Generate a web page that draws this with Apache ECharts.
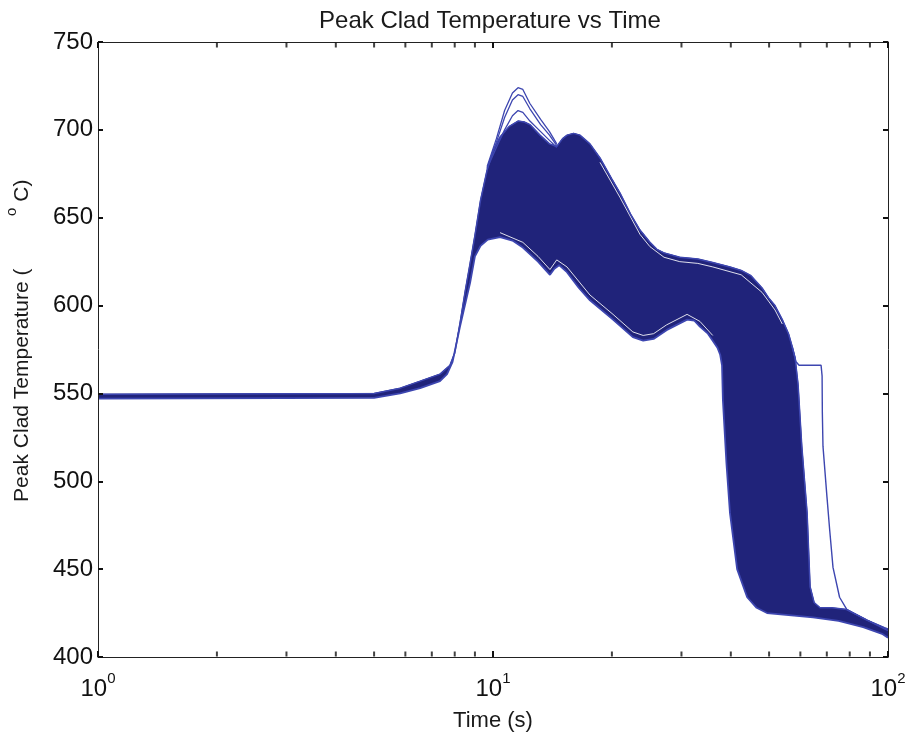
<!DOCTYPE html>
<html>
<head>
<meta charset="utf-8">
<script src="https://cdn.jsdelivr.net/npm/echarts@6/dist/echarts.min.js"></script>
<style>html,body{margin:0;padding:0;background:#fff}#c{width:908px;height:733px}</style>
</head>
<body>
<div id="c"></div>
<script>
// ---- data (time in s, temperature in °C) ----
// upper envelope of the bundle of runs
const upperX = [1, 5.0, 5.82, 6.54, 7.34, 7.78, 8.0, 8.25, 8.5, 8.75, 9.0, 9.3, 9.66, 10.0, 10.42, 11.0, 11.57, 12.0, 12.4, 13.15, 13.9, 14.5, 15.0, 15.4, 16.0, 16.6, 17.6, 18.66, 20.0, 20.97, 22.3, 23.56, 24.97, 26.0, 27.1, 29.7, 33.0, 36.0, 39.8, 42.5, 45.0, 48.0, 50.0, 51.75, 54.0, 56.0, 57.15, 58.2, 59.2, 60.5, 62.4, 63.5, 65.0, 67.3, 72.0, 78.7, 88.5, 98.3, 100];
const upperY = [549.5, 550, 553, 557, 561, 566, 573, 590, 608, 624, 640, 660, 677, 688, 696, 702, 705, 704.5, 703, 697, 692, 690.5, 695, 697, 698, 697, 692, 684, 672, 664, 652, 643, 636, 632, 630, 627.5, 626.5, 624.5, 622, 620, 617, 610, 604, 600, 592, 584, 577, 570, 555, 520, 482, 440, 431, 428, 428, 427, 421, 416.5, 416];

// lower envelope of the bundle
const lowerX = [1, 5.0, 5.82, 6.54, 7.34, 7.65, 7.9, 8.25, 8.75, 9.0, 9.3, 9.7, 10.42, 11.2, 11.9, 13.0, 13.94, 14.3, 14.7, 15.39, 16.5, 17.6, 20.13, 22.6, 24.0, 25.5, 27.5, 31.0, 32.3, 33.4, 35.0, 36.0, 37.0, 37.6, 38.0, 38.2, 39.0, 39.8, 41.5, 44.0, 46.5, 49.4, 64.6, 75.0, 86.5, 97.0, 100];
const lowerY = [547, 547.5, 550, 553, 557, 561, 568, 588, 613, 628, 634, 637.5, 639, 637, 633, 625, 617.5, 621, 623, 619, 610, 603, 592, 582, 580, 581, 586, 592, 591.5, 588, 584, 580, 576, 572, 566, 546, 510, 482, 450, 434, 428, 425, 422.5, 420.5, 417, 413, 411];

// visible white gaps between the outermost runs and the dense bundle
const gapLowX = [10.42, 11.9, 13.0, 13.94, 14.5, 15.39, 17.6, 20.13, 22.6, 24.0, 25.5, 27.5, 31.0, 33.4, 36.0];
const gapLowY = [641.5, 636, 628, 620.5, 626, 622, 606, 595, 585, 583, 584, 589, 595, 591, 583];
const gapUpX = [18.66, 20.97, 23.56, 24.97, 27.1, 29.7, 33.0, 36.0, 42.5, 48.0, 51.75, 54.0];
const gapUpY = [681.5, 661.5, 640.5, 633.5, 627.5, 625, 624, 622, 617.5, 607.5, 597.5, 589.5];

// runs that peak above the bundle around 11-12 s
const peakX  = [9.66, 10.2, 10.7, 11.2, 11.57, 11.9, 12.4, 13.2, 13.9, 14.5];
const peakAY = [679, 695, 711, 721, 724, 723, 715, 706, 699, 692];
const peakBY = [678, 693, 707, 717, 720, 719, 712, 703, 697, 691];
const peakCY = [678, 690, 700, 708, 711, 710, 705, 699, 694, 690];

// the single late-quenching run
const lateX = [57.15, 58.5, 59.54, 67.7, 68.1, 68.2, 68.45, 70.07, 71.2, 72.57, 75.4, 78.7, 88.5, 100];
const lateY = [577, 568, 566, 566, 560, 539, 520, 491, 472, 451, 434, 427, 421, 415];

const minorTicks = [2, 3, 4, 5, 6, 7, 8, 9, 20, 30, 40, 50, 60, 70, 80, 90];

const titleText = 'Peak Clad Temperature vs Time';
const xName = 'Time (s)';
// ---------------------------------------------------------------

const zip = (xs, ys) => xs.map((x, i) => [x, ys[i]]);
const BAND = '#20237a';
const EDGE = '#3d46b0';
const FONT = 'Liberation Sans, Arial, sans-serif';
const nb = n => '\u00a0'.repeat(n);

const chart = echarts.init(document.getElementById('c'));
const lineSeries = (xs, ys, color, width, z) => ({type: 'line', data: zip(xs, ys), showSymbol: false, z: z,
  silent: true, lineStyle: {color: color, width: width}});
chart.setOption({
  animation: false,
  backgroundColor: '#fff',
  title: {text: titleText, left: 485, textAlign: 'center', top: 4,
    textStyle: {fontFamily: FONT, fontSize: 24, fontWeight: 'normal', color: '#1a1a1a'}},
  grid: {left: 98, right: 20, top: 42, bottom: 76, containLabel: false, outerBoundsMode: 'none'},
  xAxis: [{
    type: 'log', logBase: 10, min: 1, max: 100, z: 10,
    name: xName, nameLocation: 'middle', nameGap: 53,
    nameTextStyle: {fontFamily: FONT, fontSize: 22, color: '#1a1a1a'},
    axisLine: {show: true, lineStyle: {color: '#222', width: 1}},
    axisTick: {show: true, inside: true, length: 6, lineStyle: {color: '#111', width: 2}},
    splitLine: {show: false},
    axisLabel: {margin: 14, color: '#111',
      formatter: v => '{b|10}{s|' + Math.round(Math.log10(v)) + '}',
      rich: {b: {fontFamily: FONT, fontSize: 24, color: '#111'},
             s: {fontFamily: FONT, fontSize: 15, color: '#111', padding: [0, 0, 22, 0]}}}
  }, {
    type: 'log', logBase: 10, min: 1, max: 100, position: 'top', z: 10,
    axisLine: {show: true, lineStyle: {color: '#222', width: 1}},
    axisTick: {show: true, inside: true, length: 6, lineStyle: {color: '#111', width: 2}},
    axisLabel: {show: false}, splitLine: {show: false}
  }],
  yAxis: [{
    type: 'value', min: 400, max: 750, interval: 50, z: 10,
    name: '{n|' + nb(3) + 'Peak Clad Temperature (' + nb(9) + '}{s|o}{n| C)}',
    nameLocation: 'middle', nameRotate: 90, nameGap: 57,
    nameTextStyle: {rich: {n: {fontFamily: FONT, fontSize: 21, color: '#1a1a1a'},
                           s: {fontFamily: FONT, fontSize: 15, color: '#1a1a1a', padding: [0, 0, 22, 0]}}},
    axisLine: {show: true, lineStyle: {color: '#222', width: 1}},
    axisTick: {show: true, inside: true, length: 5, lineStyle: {color: '#111', width: 2}},
    splitLine: {show: false},
    axisLabel: {margin: 5, fontFamily: FONT, fontSize: 24, color: '#111'}
  }, {
    type: 'value', min: 400, max: 750, interval: 50, position: 'right', z: 10,
    axisLine: {show: true, lineStyle: {color: '#222', width: 1}},
    axisTick: {show: true, inside: true, length: 5, lineStyle: {color: '#111', width: 2}},
    axisLabel: {show: false}, splitLine: {show: false}
  }],
  series: [
    {type: 'line', data: zip(upperX, upperY), showSymbol: false, z: 2, silent: true,
     lineStyle: {color: BAND, width: 1}, areaStyle: {color: BAND, opacity: 1, origin: 'start'}},
    {type: 'line', data: zip(lowerX, lowerY), showSymbol: false, z: 3, silent: true,
     lineStyle: {width: 0}, areaStyle: {color: '#ffffff', opacity: 1, origin: 'start'}},
    lineSeries(gapLowX, gapLowY, 'rgba(255,255,255,0.85)', 1, 4),
    lineSeries(gapUpX, gapUpY, 'rgba(255,255,255,0.85)', 1, 4),
    lineSeries(upperX, upperY, EDGE, 1.5, 5),
    lineSeries(lowerX, lowerY, EDGE, 1.8, 5),
    lineSeries(peakX, peakAY, EDGE, 1.3, 5),
    lineSeries(peakX, peakBY, EDGE, 1.3, 5),
    lineSeries(peakX, peakCY, EDGE, 1.3, 5),
    lineSeries(lateX, lateY, EDGE, 1.4, 5),
    {type: 'scatter', data: minorTicks.map(x => [x, 400]), symbol: 'rect', symbolSize: [2, 5],
     symbolOffset: [0, -3], clip: false, z: 12, itemStyle: {color: '#111'}, silent: true},
    {type: 'scatter', data: minorTicks.map(x => [x, 750]), symbol: 'rect', symbolSize: [2, 5],
     symbolOffset: [0, 3], clip: false, z: 12, itemStyle: {color: '#111'}, silent: true}
  ]
});
</script>
</body>
</html>
